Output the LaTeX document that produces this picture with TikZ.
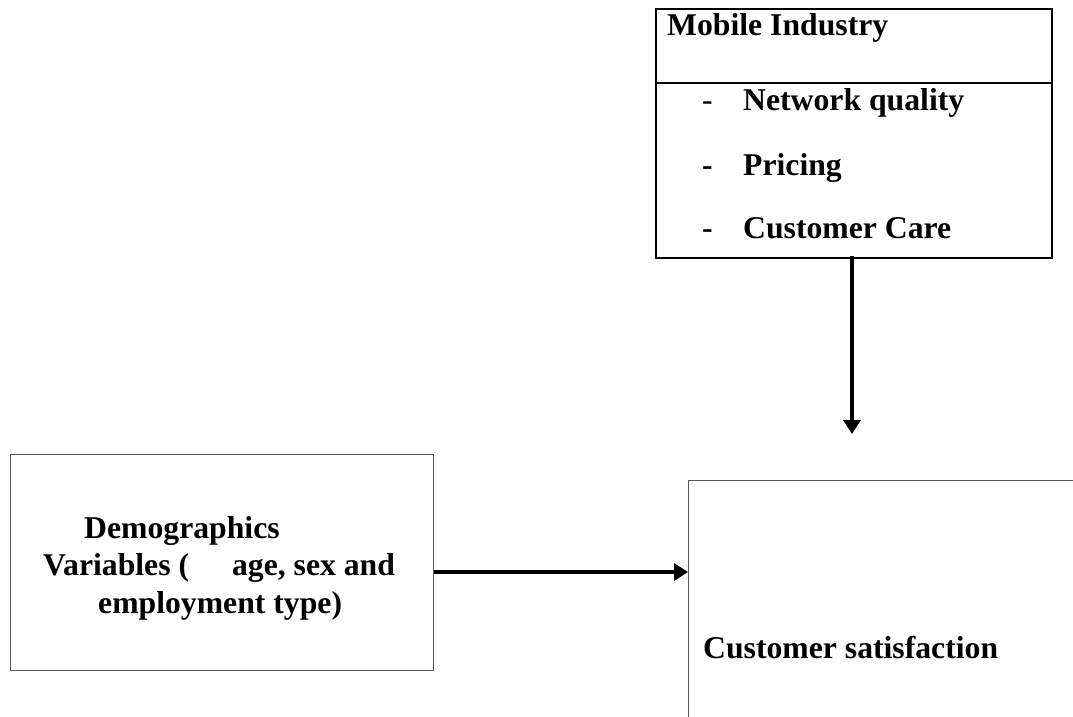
\documentclass[tikz,border=0pt]{standalone}
\usepackage{fontspec}
\setmainfont{Liberation Serif}
\usetikzlibrary{arrows.meta}
\begin{document}
\begin{tikzpicture}[x=1pt,y=-1pt,
  txt/.style={anchor=base west,inner sep=0pt,font=\fontsize{31.7}{37.5}\selectfont\bfseries},
  boxthick/.style={draw=black,line width=2pt,inner sep=0pt,anchor=north west},
  boxthin/.style={draw=black!65,line width=1.2pt,inner sep=0pt,anchor=north west},
  conn/.style={line width=3.5pt,-{Triangle[width=17pt,length=14pt]}}]
\useasboundingbox (0,0) rectangle (1073,717);
\clip (0,0) rectangle (1073,717);
% Mobile Industry box
\node[boxthick,minimum width=396pt,minimum height=249pt] (mob) at (655,8) {};
\draw[line width=2pt] (mob.west |- 0,83) coordinate (dl) -- (mob.east |- 0,83) coordinate (dr);
\node[txt] (mobt) at (667,36) {Mobile Industry};
\node[txt,font=\fontsize{31.7}{37.5}\selectfont] (d1) at (702,110) {-};
\node[txt] (i1) at (743,110) {Network quality};
\node[txt] (d2) at (702,175) {-};
\node[txt] (i2) at (743,175) {Pricing};
\node[txt] (d3) at (702,238) {-};
\node[txt] (i3) at (743,238) {Customer Care};
% Demographics box
\node[boxthin,minimum width=423pt,minimum height=216pt] (dem) at (10,454) {};
\node[txt] (dm1) at (84,538) {Demographics};
\node[txt] (dm2) at (43,575) {Variables (\hspace{43pt}age, sex and};
\node[txt] (dm3) at (98,613) {employment type)};
% Customer satisfaction box (cut by the page edge)
\node[boxthin,minimum width=420pt,minimum height=300pt] (cs) at (688,480) {};
\node[txt] (cst) at (703,658) {Customer satisfaction};
% connectors
\coordinate (vtip) at (852,434);
\draw[conn] ([yshift=3pt]mob.south -| vtip) -- (vtip);
\draw[conn] (dem.east |- 0,572) -- (cs.west |- 0,572);
\end{tikzpicture}
\end{document}
